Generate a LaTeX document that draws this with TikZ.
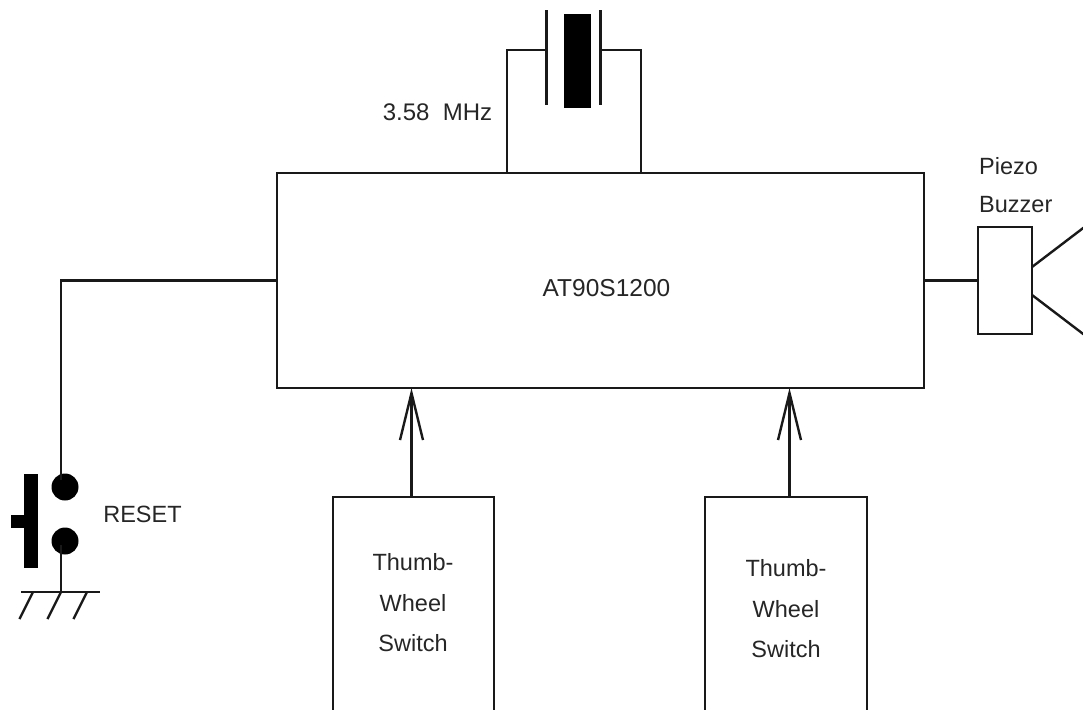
\documentclass[tikz,border=0pt]{standalone}
\usepackage{fontspec}
\setmainfont{Liberation Sans}
\usetikzlibrary{arrows.meta}
\begin{document}
\begin{tikzpicture}[
    x=1pt, y=-1pt,
    wire/.style={line width=2.4pt, draw=black!90},
    box/.style={wire, rectangle, inner sep=0pt, outer sep=0pt},
    solid block/.style={rectangle, fill=black, inner sep=0pt, outer sep=0pt},
    contact/.style={circle, fill=black, minimum size=27pt, inner sep=0pt, outer sep=0pt},
    tag/.style={font=\fontsize{23.5}{40.5}\selectfont, text=black!85, align=center, inner sep=0pt},
    widetag/.style={tag, font=\fontsize{24.5}{40.5}\selectfont},
    feed/.style={wire, -{Straight Barb[length=47pt, width=23pt, line width=2.4pt]}},
]
\useasboundingbox (0,0) rectangle (1083,709);

% Controller and its neighbours
\node[box, minimum width=647pt, minimum height=215pt] (chip) at (600.5,280.5) {};
\node[widetag] (chiptag) at (606.5,288) {AT90S1200};
\node[box, minimum width=54pt, minimum height=107pt] (buzzer) at (1005,280.5) {};
\node[tag, anchor=west] (piezotag) at (979,166) {Piezo};
\node[tag, anchor=west] (buzzertag) at (979,205) {Buzzer};
\draw[wire] (chip.east) -- (buzzer.west);
\coordinate (hornup) at (1095,219);
\coordinate (horndown) at (1095,343);
\coordinate (hornupstart) at (1032,267);
\coordinate (horndownstart) at (1032,295);
\draw[wire] (hornupstart) -- (hornup);
\draw[wire] (horndownstart) -- (horndown);

% --- Crystal ---
\node[solid block, minimum width=27pt, minimum height=94pt] (crystal) at (577.5,61) {};
\node[solid block, fill=black!90, minimum width=2.8pt, minimum height=95pt] (plateleft) at (546.5,57.5) {};
\node[solid block, fill=black!90, minimum width=2.8pt, minimum height=95pt] (plateright) at (600.5,57.5) {};
\coordinate (pinleft) at (507,173);
\coordinate (pinright) at (641,173);
\coordinate (tapleft) at (546.5,50);
\coordinate (tapright) at (600.5,50);
\draw[wire] (pinleft) |- (tapleft);
\draw[wire] (pinright) |- (tapright);
\node[tag, font=\fontsize{24}{40.5}\selectfont] (crystaltag) at (437.5,112) {3.58\ \ MHz};

% --- Reset button ---
\node[contact] (contacttop) at (65,487) {};
\node[contact] (contactbottom) at (65,541) {};
\node[solid block, minimum width=14pt, minimum height=94pt] (pushbar) at (31,521) {};
\node[solid block, minimum width=14pt, minimum height=13pt] (pushknob) at (18,521.5) {};
\node[tag] (resettag) at (142.5,514) {RESET};
\coordinate (resetpin) at (61,480);
\coordinate (resetlow) at (61,545);
\coordinate (groundtap) at (61,592);
\draw[wire] (chip.west) -| (resetpin);
\draw[wire] (resetlow) -- (groundtap);
\coordinate (groundleft) at (21,592);
\coordinate (groundright) at (100,592);
\draw[wire] (groundleft) -- (groundright);
\foreach \hx in {33,61,87}
    \draw[wire] (\hx,592) -- ++(-13.5,27);

% --- Thumb wheels ---
\node[box, minimum width=161pt, minimum height=263pt] (wheelone) at (413.5,628.5) {};
\node[box, minimum width=162pt, minimum height=263pt] (wheeltwo) at (786,628.5) {};
\node[tag] (wheelonetag) at (413,603) {Thumb-\\Wheel\\Switch};
\node[tag] (wheeltwotag) at (786,609) {Thumb-\\Wheel\\Switch};
\coordinate (wheelonetop) at (411.5,497);
\coordinate (wheeltwotop) at (789.5,497);
\coordinate (chipinone) at (411.5,388);
\coordinate (chipintwo) at (789.5,388);
\draw[feed] (wheelonetop) -- (chipinone);
\draw[feed] (wheeltwotop) -- (chipintwo);

\end{tikzpicture}
\end{document}
